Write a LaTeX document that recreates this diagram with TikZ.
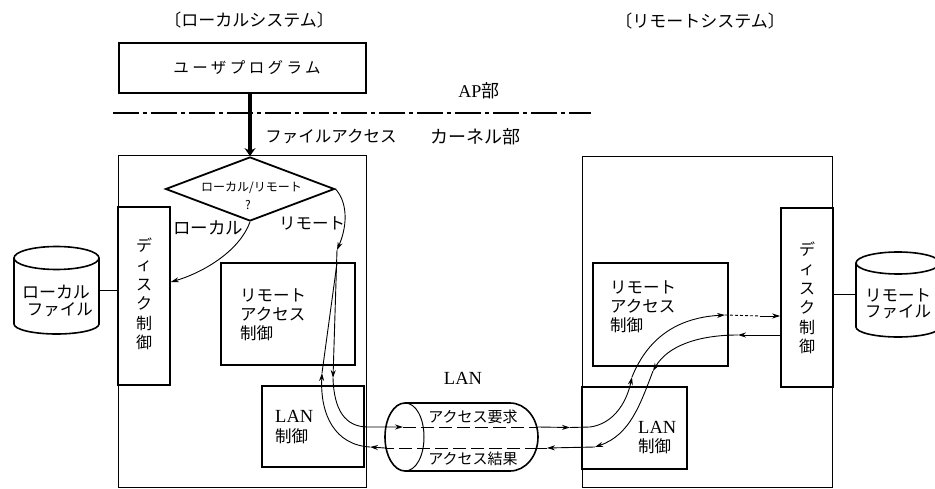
\documentclass[tikz,border=0pt]{standalone}
\usepackage{fontspec}
\usetikzlibrary{arrows.meta,shapes.geometric}
\setmainfont{Liberation Serif}
\newfontfamily\cjk{Noto Sans CJK JP}
\newfontfamily\cjkwide{Noto Sans CJK JP}[LetterSpace=22]
\tikzset{
  frame/.style={draw=black,line width=1pt},
  blockbox/.style={draw=black,line width=1.7pt,inner sep=0pt},
  flowline/.style={draw=black,line width=0.9pt},
  tipped/.style={flowline,-{Stealth[length=8pt,width=5pt]}},
  cyl/.style={draw=black,line width=1.6pt},
  hidden/.style={inner sep=0pt,outer sep=0pt},
  jp/.style={font=\cjk\fontsize{15}{15}\selectfont,inner sep=0pt,text=black},
  jpbig/.style={font=\cjk\fontsize{16.5}{16.5}\selectfont,inner sep=0pt,text=black},
  jpsmall/.style={font=\cjk\fontsize{12}{12}\selectfont,inner sep=0pt,text=black},
  jpblock/.style={font=\cjk\fontsize{16.5}{19}\selectfont,inner sep=0pt,align=left,text=black},
  jpstack/.style={font=\cjk\fontsize{16}{19.5}\selectfont,inner sep=0pt,align=center,text=black},
  latin/.style={font=\fontsize{18.5}{18.5}\selectfont,inner sep=0pt,text=black},
}
\begin{document}
\begin{tikzpicture}[x=1pt,y=-1pt]
\useasboundingbox[fill=white] (0,0) rectangle (935,489);
% system frames
\node[frame,hidden,minimum width=248pt,minimum height=331pt] (localsys) at (242,321.5) {};
\node[frame,hidden,minimum width=250pt,minimum height=330pt] (remotesys) at (707,322) {};
% top
\node[jp,font=\cjk\fontsize{17}{17}\selectfont] (ltitle) at (249,20) {〔ローカルシステム〕};
\node[jp,font=\cjk\fontsize{17}{17}\selectfont] (rtitle) at (700,21) {〔リモートシステム〕};
\node[blockbox,minimum width=247pt,minimum height=50pt] (user) at (242.5,68) {};
\node[font=\cjkwide\fontsize{15.5}{15.5}\selectfont,inner sep=0pt,text=black] at (247,68) {ユーザプログラム};
\coordinate (sepa) at (113,113);
\coordinate (sepb) at (591,113);
\draw[line width=1.1pt,dash pattern=on 26pt off 4pt on 4pt off 4pt] (sepa) -- (sepb);
\node[inner sep=0pt,text=black,font=\fontsize{18}{18}\selectfont] (ap) at (479,91) {AP{\cjk 部}};
\node[jp,font=\cjk\fontsize{18}{18}\selectfont] (kernel) at (475,137) {カーネル部};
\node[jpbig] (fa) at (331,136) {ファイルアクセス};
% decision
\node[draw=black,line width=1.8pt,diamond,aspect=2.5,inner sep=0pt,minimum width=169pt,minimum height=64pt] (dec) at (250,189) {};
\node[jpsmall] at (251.5,188) {ローカル/リモート};
\node[jpsmall] at (248,205) {?};
\draw[line width=4.5pt,-{Stealth[length=8pt,width=11pt]}] (user.south -| dec.north) -- (dec.north);
% blocks
\node[blockbox,minimum width=52pt,minimum height=178pt] (ldisk) at (144,296) {};
\node[jpstack] at (144,294) {デ\\ィ\\ス\\ク\\制\\御};
\node[blockbox,minimum width=134pt,minimum height=102pt] (lra) at (288,314) {};
\node[jpblock,anchor=west] at (240,315) {リモート\\アクセス\\制御};
\node[blockbox,minimum width=102pt,minimum height=81pt] (llan) at (313,426.5) {};
\node[latin,anchor=west] at (275,416) {LAN};
\node[jpbig,anchor=west] at (275,436) {制御};
\node[blockbox,minimum width=135pt,minimum height=103pt] (rra) at (660.5,314.5) {};
\node[jpblock,anchor=west] at (610,307) {リモート\\アクセス\\制御};
\node[blockbox,minimum width=105pt,minimum height=82pt] (rlan) at (634.5,428) {};
\node[latin,anchor=west] at (638,427) {LAN};
\node[jpbig,anchor=west] at (638,446) {制御};
\node[blockbox,minimum width=52pt,minimum height=179pt] (rdisk) at (807,297.5) {};
\node[jpstack] at (807,298) {デ\\ィ\\ス\\ク\\制\\御};
% local file cylinder
\node[hidden,minimum width=85pt,minimum height=87pt] (lfile) at (56.5,290.5) {};
\draw[cyl] (56.5,258) ellipse[x radius=42.5,y radius=11.5];
\draw[cyl] (14,258) -- (14,324) .. controls (14,329.5) and (33,334) .. (56.5,334)
  .. controls (80,334) and (99,329.5) .. (99,324) -- (99,258);
\node[jp,font=\cjk\fontsize{17}{17}\selectfont] at (56,292) {ローカル};
\node[jpbig] at (60,310) {ファイル};
\draw[flowline] (lfile.east) -- (ldisk.west |- lfile.east);
% remote file cylinder
\node[hidden,minimum width=84pt,minimum height=85pt] (rfile) at (898,294.5) {};
\draw[cyl] (898,263) ellipse[x radius=42,y radius=11];
\draw[cyl] (856,263) -- (856,327) .. controls (856,332.5) and (875,337) .. (898,337)
  .. controls (921,337) and (940,332.5) .. (940,327) -- (940,263);
\node[jpbig] at (898,295) {リモート};
\node[jpbig] at (898,312) {ファイル};
\draw[flowline] (rdisk.east |- rfile.west) -- (rfile.west);
% LAN cylinder
\node[hidden,minimum width=153pt,minimum height=68pt] (lancyl) at (461.5,437) {};
\draw[cyl] (405,403) -- (510,403) .. controls (525.5,403) and (538,418) .. (538,437)
  .. controls (538,456) and (525.5,471) .. (510,471) -- (405,471)
  .. controls (394,471) and (385,456) .. (385,437) .. controls (385,418) and (394,403) .. (405,403);
\draw[line width=1pt] (405,403) .. controls (416,403) and (424,418) .. (424,437)
  .. controls (424,456) and (416,471) .. (405,471);
\node[latin] (lanlabel) at (463,378) {LAN};
\node[jp] at (473,417) {アクセス要求};
\node[jp] at (473,459) {アクセス結果};
% connectors
\coordinate (a1) at (337,250);
\coordinate (a2) at (333,378);
\coordinate (a3) at (403,427);
\coordinate (a4) at (538,427);
\coordinate (a5) at (570,427.5);
\coordinate (a6) at (632,377);
\coordinate (a7) at (725,315);
\coordinate (b1) at (738,335);
\coordinate (b2) at (653,371);
\coordinate (b2b) at (595,447);
\coordinate (b3) at (547,448);
\coordinate (b4) at (538,448);
\coordinate (b5) at (385,448);
\coordinate (b6) at (370,447);
\coordinate (b7) at (322,373);
\coordinate (b8) at (337,263);
\draw[tipped] (dec.south) .. controls (240,250) and (205,272) .. (ldisk.east |- 0,282);
\node[jp,font=\cjk\fontsize{17.5}{17.5}\selectfont] at (208,228) {ローカル};
\node[jpbig] at (312,223) {リモート};
\draw[tipped] (dec.east) .. controls (346,200) and (349,222) .. (a1);
\draw[tipped] (a1) -- (a2);
\draw[tipped] (a2) .. controls (334,410) and (345,427) .. (368,427) -- (a3);
\draw[flowline,dash pattern=on 13pt off 5pt] (a3) -- (a4);
\draw[tipped] (a4) -- (a5);
\draw[tipped] (a5) -- (590,427) .. controls (612,424) and (626,405) .. (a6);
\draw[tipped] (a6) .. controls (645,345) and (670,318) .. (a7);
\draw[flowline,densely dashed] (a7) -- (760,316);
\draw[tipped] (760,316) -- (rdisk.west |- 0,316);
\draw[tipped] (rdisk.west |- b1) -- (b1);
\draw[tipped] (b1) .. controls (700,335) and (668,345) .. (b2);
\draw[tipped] (b2) .. controls (640,405) and (630,435) .. (b2b);
\draw[tipped] (b2b) -- (b3);
\draw[flowline] (b3) -- (b4);
\draw[flowline,dash pattern=on 13pt off 5pt] (b4) -- (b5);
\draw[tipped] (b5) -- (b6);
\draw[tipped] (b6) .. controls (335,445) and (320,415) .. (b7);
\draw[flowline] (b7) -- (b8);
\end{tikzpicture}
\end{document}
